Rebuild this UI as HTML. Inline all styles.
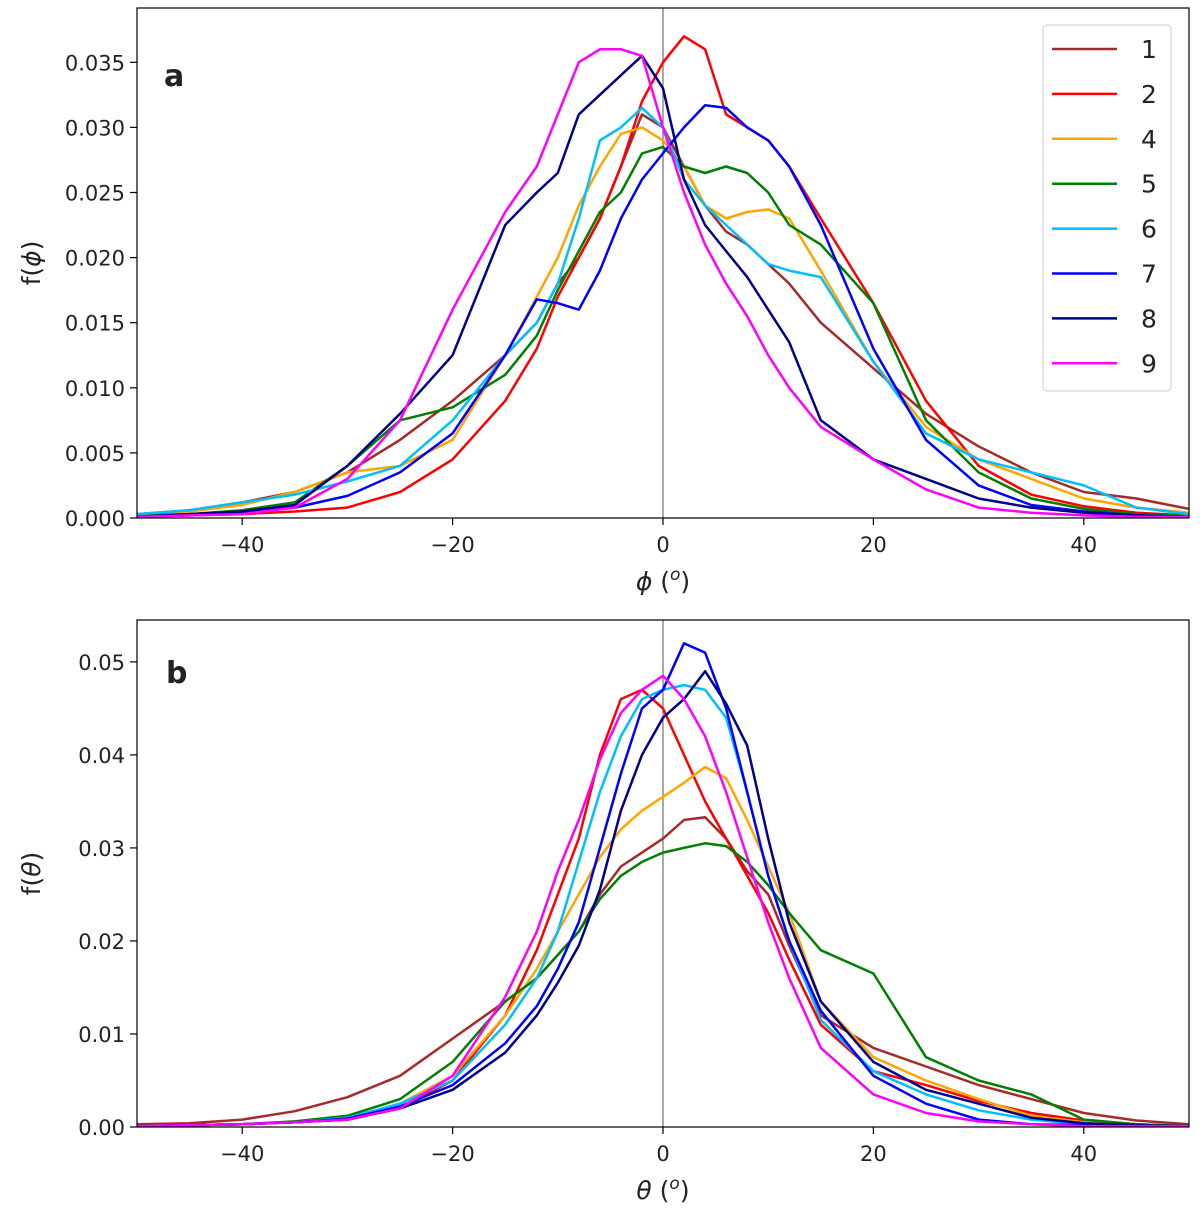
<!DOCTYPE html>
<html><head><meta charset="utf-8"><style>
html,body{margin:0;padding:0;background:#fff;}
svg text{font-family:"DejaVu Sans","Liberation Sans",sans-serif;fill:#222;}
</style></head><body>
<svg id="chart" width="1200" height="1215" xmlns="http://www.w3.org/2000/svg"></svg>
<script>
const xs=[-50,-45,-40,-35,-30,-25,-20,-15,-12,-10,-8,-6,-4,-2,0,2,4,6,8,10,12,15,20,25,30,35,40,45,50];
const seriesNames=["1","2","4","5","6","7","8","9"];
const seriesColors=["#a52a2a","#ff0000","#ffa500","#008000","#00bfff","#0000ff","#00008b","#ff00ff"];
const phiS1=[.0003,.0006,.0012,.002,.0035,.006,.009,.0125,.015,.018,.020,.023,.027,.031,.030,.027,.024,.022,.021,.0195,.018,.015,.0115,.008,.0055,.0035,.002,.0015,.0007];
const phiS2=[.0001,.0002,.0003,.0005,.0008,.002,.0045,.009,.013,.017,.020,.023,.027,.032,.035,.037,.036,.031,.030,.029,.027,.023,.0165,.009,.004,.0018,.0009,.0004,.0002];
const phiS4=[.0003,.0005,.001,.002,.0035,.004,.006,.0125,.017,.020,.024,.027,.0295,.030,.029,.027,.024,.023,.0235,.0237,.023,.019,.012,.007,.0045,.003,.0015,.0008,.0004];
const phiS5=[.0002,.0003,.0006,.0012,.004,.0075,.0085,.011,.014,.0175,.0205,.0235,.025,.028,.0285,.027,.0265,.027,.0265,.025,.0225,.021,.0165,.0075,.0035,.0015,.0007,.0003,.0002];
const phiS6=[.0003,.0006,.0012,.0018,.0028,.004,.0075,.0125,.015,.018,.023,.029,.030,.0315,.030,.026,.024,.0225,.021,.0195,.019,.0185,.012,.0065,.0045,.0035,.0025,.0008,.0003];
const phiS7=[.0001,.0002,.0004,.0008,.0017,.0035,.0065,.0125,.0168,.0165,.016,.019,.023,.026,.028,.030,.0317,.0315,.030,.029,.027,.0225,.013,.006,.0025,.001,.0005,.0002,.0001];
const phiS8=[.0001,.0003,.0005,.001,.004,.008,.0125,.0225,.025,.0265,.031,.0325,.034,.0355,.033,.026,.0225,.0205,.0185,.016,.0135,.0075,.0045,.003,.0015,.0008,.0004,.0002,.0001];
const phiS9=[.0001,.0002,.0003,.0008,.003,.0075,.016,.0235,.027,.031,.035,.036,.036,.0355,.030,.025,.021,.018,.0155,.0125,.010,.007,.0045,.0022,.0008,.0004,.0002,.0001,.0001];
const thS1=[.0003,.0004,.0008,.0017,.0032,.0055,.0095,.0135,.016,.0185,.021,.025,.028,.0295,.031,.033,.0333,.031,.0275,.025,.0195,.012,.0085,.0065,.0045,.003,.0015,.0007,.0003];
const thS2=[.0001,.0002,.0003,.0005,.0008,.002,.005,.012,.019,.025,.031,.040,.046,.047,.045,.040,.035,.031,.027,.023,.018,.011,.006,.0045,.0028,.0015,.0007,.0003,.0001];
const thS4=[.0001,.0002,.0003,.0005,.001,.0025,.0055,.012,.017,.021,.025,.029,.032,.034,.0355,.037,.0387,.0375,.033,.028,.023,.0135,.0075,.005,.003,.0012,.0005,.0002,.0001];
const thS5=[.0001,.0002,.0003,.0006,.0012,.003,.007,.0135,.016,.0185,.021,.0245,.027,.0285,.0295,.030,.0305,.0302,.0285,.026,.023,.019,.0165,.0075,.005,.0035,.0008,.0003,.0001];
const thS6=[.0001,.0002,.0003,.0005,.001,.0025,.005,.011,.016,.021,.0285,.036,.042,.046,.047,.0475,.047,.044,.036,.027,.020,.0115,.006,.0035,.0018,.0008,.0003,.0001,.0001];
const thS7=[.0001,.0002,.0003,.0005,.0009,.0022,.0045,.009,.013,.017,.022,.030,.038,.045,.047,.052,.051,.045,.036,.027,.020,.0125,.0055,.0025,.0008,.0003,.0002,.0001,.0001];
const thS8=[.0001,.0002,.0003,.0005,.0008,.002,.004,.008,.012,.0155,.0195,.0255,.034,.040,.044,.046,.049,.0455,.041,.031,.022,.0135,.007,.004,.0025,.001,.0004,.0002,.0001];
const thS9=[.0001,.0002,.0003,.0005,.0008,.002,.0055,.014,.021,.0275,.033,.0395,.0445,.047,.0485,.046,.042,.036,.029,.022,.016,.0085,.0035,.0015,.0006,.0003,.0001,.0001,.0001];
const xTicks=[-40,-20,0,20,40];
const phiYTicks=[0,0.005,0.010,0.015,0.020,0.025,0.030,0.035];
const thYTicks=[0,0.01,0.02,0.03,0.04,0.05];

const NS="http://www.w3.org/2000/svg";
const svg=document.getElementById('chart');
function mk(tag,attrs,parent){const e=document.createElementNS(NS,tag);for(const k in attrs)e.setAttribute(k,attrs[k]);(parent||svg).appendChild(e);return e;}

function panel(cfg){
  const g=mk('g',{});
  
  
  const L=137,R=1189,T=cfg.top,B=cfg.bottom;
  const xS=v=>L+(v+50)/100*(R-L);
  const yS=v=>B-v/cfg.ymax*(B-T);
  const clip=mk('clipPath',{id:'clip'+cfg.key},g);
  mk('rect',{x:L,y:T,width:R-L,height:B-T},clip);
  const vl=mk('line',{x1:xS(0),x2:xS(0),y1:T,y2:B,stroke:'#555','stroke-width':1},g);
  
  
  cfg.series.forEach((s,i)=>{
    const p=mk('polyline',{points:xs.map((x,j)=>xS(x).toFixed(1)+','+yS(s[j]).toFixed(1)).join(' '),fill:'none',stroke:seriesColors[i],'stroke-width':2.5,'stroke-linejoin':'round','clip-path':'url(#clip'+cfg.key+')'},g);
    
    
  });
  const fr=mk('rect',{x:L,y:T,width:R-L,height:B-T,fill:'none',stroke:'#000','stroke-width':1.2},g);
  
  
  xTicks.forEach(v=>{
    mk('line',{x1:xS(v),x2:xS(v),y1:B,y2:B+7,stroke:'#000','stroke-width':1.2},g);
    const t=mk('text',{x:xS(v),y:B+34,'font-size':21,'text-anchor':'middle'},g);
    t.textContent=(v<0?'\u2212'+(-v):v);
    
    
  });
  cfg.yTicks.forEach(v=>{
    mk('line',{x1:L-7,x2:L,y1:yS(v),y2:yS(v),stroke:'#000','stroke-width':1.2},g);
    const t=mk('text',{x:L-12,y:yS(v)+8,'font-size':21,'text-anchor':'end'},g);
    t.textContent=v.toFixed(cfg.dec);
    
    
  });
  const xl=mk('text',{x:663,y:B+72,'font-size':25,'text-anchor':'middle'},g);
  xl.innerHTML='<tspan font-style="italic">'+cfg.sym+'</tspan> (<tspan font-style="italic" font-size="17" dy="-10">o</tspan><tspan dy="10">)</tspan>';
  
  
  const yl=mk('text',{x:0,y:0,'font-size':25,'text-anchor':'middle',transform:'translate(40,'+((T+B)/2)+') rotate(-90)'},g);
  yl.innerHTML='f(<tspan font-style="italic">'+cfg.sym+'</tspan>)';
  
  
  const pl=mk('text',{x:cfg.lx,y:cfg.ly,'font-size':30,'font-weight':'bold'},g);
  pl.textContent=cfg.key;
  
  
}
panel({key:'a',name:'phi-panel',top:8,bottom:518,ymax:0.03917,series:[phiS1,phiS2,phiS4,phiS5,phiS6,phiS7,phiS8,phiS9],yTicks:phiYTicks,dec:3,sym:'\u03d5',lx:164,ly:86});
panel({key:'b',name:'theta-panel',top:620,bottom:1127,ymax:0.0545,series:[thS1,thS2,thS4,thS5,thS6,thS7,thS8,thS9],yTicks:thYTicks,dec:2,sym:'\u03b8',lx:166,ly:683});

const lg=mk('g',{});


mk('rect',{x:1043,y:25,width:128,height:366,rx:4,fill:'#fff',stroke:'#ccc','stroke-width':1},lg);
seriesNames.forEach((n,i)=>{
  const y=49+i*44.9;
  const e=mk('g',{},lg);
  
  
  mk('line',{x1:1052,x2:1117,y1:y,y2:y,stroke:seriesColors[i],'stroke-width':2.5},e);
  const t=mk('text',{x:1141,y:y+9,'font-size':25},e);
  t.textContent=n;
});
</script>
</body></html>
